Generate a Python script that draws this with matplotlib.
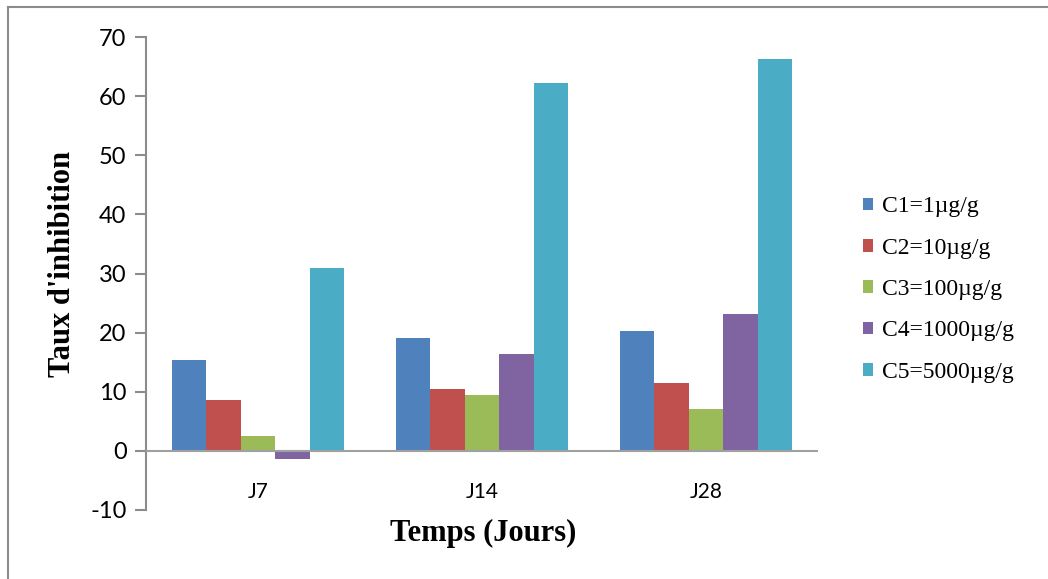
import numpy as np
import matplotlib.pyplot as plt
from matplotlib.lines import Line2D

plt.rcParams["axes.unicode_minus"] = False

# Data
jours = ["J7", "J14", "J28"]
series = ["C1=1µg/g", "C2=10µg/g", "C3=100µg/g", "C4=1000µg/g", "C5=5000µg/g"]
c1 = [15.4, 19.1, 20.3]
c2 = [8.6, 10.4, 11.5]
c3 = [2.5, 9.5, 7.1]
c4 = [-1.3, 16.4, 23.1]
c5 = [31.0, 62.3, 66.2]
colors = ["#4F81BD", "#C0504D", "#9BBB59", "#8064A2", "#4BACC6"]

W, H = 1048, 579
fig = plt.figure(figsize=(W / 100, H / 100), dpi=100)
ax = fig.add_axes([146 / W, 1 - 510 / H, (818 - 146) / W, (510 - 37) / H])

# outer chart border (only top and left visible)
fig.add_artist(Line2D([8 / W, 8 / W], [0, 1 - 7 / H], transform=fig.transFigure,
                      color="#8c8c8c", lw=1.5))
fig.add_artist(Line2D([8 / W, 1], [1 - 7 / H, 1 - 7 / H], transform=fig.transFigure,
                      color="#8c8c8c", lw=1.5))

x = np.arange(len(jours))
n = 5
bw = 1 / (n + 1.5)
for i, (vals, lab) in enumerate(zip([c1, c2, c3, c4, c5], series)):
    ax.bar(x + (i - 2) * bw, vals, bw, color=colors[i], label=lab, zorder=2)

ax.set_xlim(-0.5, 2.5)
ax.set_ylim(-10, 70)
ax.set_yticks(range(-10, 71, 10))
ax.axhline(0, color="#a0a0a0", lw=1.5, zorder=3)

for s in ["top", "right", "bottom"]:
    ax.spines[s].set_visible(False)
ax.spines["left"].set_color("#8c8c8c")
ax.spines["left"].set_linewidth(1.5)

ax.tick_params(axis="y", direction="out", length=8, width=1.5, color="#8c8c8c",
               labelsize=17, pad=6)
for t in ax.get_yticklabels():
    t.set_fontfamily("Lato")

# category labels sit just below the zero line
ax.set_xticks([])
for xi, lab in zip(x, jours):
    ax.text(xi, -7, lab, ha="center", va="center", fontsize=15, fontfamily="Lato")

fig.text(483 / W, 1 - 533 / H, "Temps (Jours)", ha="center", va="center",
         fontfamily="Liberation Serif", fontweight="bold", fontsize=22)
ax.set_ylabel("Taux d'inhibition", fontfamily="Liberation Serif", fontweight="bold",
              fontsize=22)
ax.yaxis.set_label_coords(-0.103, 0.52)

ax.legend(loc="center left", bbox_to_anchor=(1.035, 0.466), frameon=False,
          prop={"family": "Liberation Serif", "size": 17},
          handlelength=0.45, handleheight=0.45, handletextpad=0.35, labelspacing=0.86)

fig.savefig("out.png", dpi=100)
